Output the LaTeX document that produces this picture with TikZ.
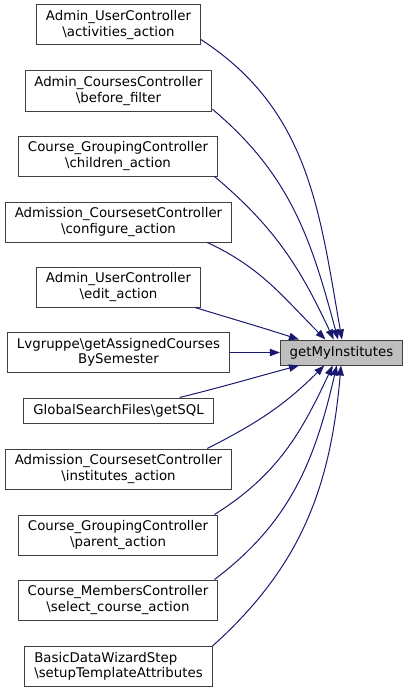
\documentclass[tikz,border=0pt]{standalone}
\usepackage{fontspec}
\setmainfont{DejaVu Sans}
\usepackage{tikz}
\usetikzlibrary{arrows.meta}
\definecolor{edgeblue}{HTML}{191970}
\definecolor{boxgray}{HTML}{404040}
\definecolor{fillgray}{HTML}{BFBFBF}

\begin{document}
\begin{tikzpicture}[
  x=0.75pt, y=0.75pt,
  font=\fontsize{10}{11.5}\selectfont,
  caller/.style={rectangle, draw=boxgray, fill=white, line width=0.75pt,
                 align=center, minimum height=30pt, inner xsep=7pt,
                 inner ysep=2pt},
  callee/.style={caller, fill=fillgray, minimum height=18.75pt},
  arrow/.style={-{Triangle[length=7.5pt, width=5.5pt]}, line width=0.75pt,
                color=edgeblue},
]
\useasboundingbox (0,0) rectangle (409,-692);

% Callers
\node[caller] (c1) at (118.5,-25)
  {Admin\_UserController\\\textbackslash activities\_action};
\node[caller] (c2) at (118.5,-91)
  {Admin\_CoursesController\\\textbackslash before\_filter};
\node[caller] (c3) at (118,-156)
  {Course\_GroupingController\\\textbackslash children\_action};
\node[caller] (c4) at (118.5,-222)
  {Admission\_CoursesetController\\\textbackslash configure\_action};
\node[caller] (c5) at (118.5,-287)
  {Admin\_UserController\\\textbackslash edit\_action};
\node[caller] (c6) at (118.5,-352.5)
  {Lvgruppe\textbackslash getAssignedCourses\\BySemester};
\node[caller, minimum height=18.75pt] (c7) at (118.5,-410.5)
  {GlobalSearchFiles\textbackslash getSQL};
\node[caller] (c8) at (118.5,-469)
  {Admission\_CoursesetController\\\textbackslash institutes\_action};
\node[caller] (c9) at (118,-535)
  {Course\_GroupingController\\\textbackslash parent\_action};
\node[caller] (c10) at (118,-600)
  {Course\_MembersController\\\textbackslash select\_course\_action};
\node[caller, align=left] (c11) at (118.5,-666)
  {BasicDataWizardStep\\\textbackslash setupTemplateAttributes};

% Called function
\node[callee] (target) at (341.5,-352.5) {getMyInstitutes};

% Calls
\draw[arrow] (c1.-10) to[out=-33, in=100] (target.88);
\draw[arrow] (c2.-11) to[out=-40, in=105] (target.105);
\draw[arrow] (c3.-12) to[out=-40, in=115] (target.121);
\draw[arrow] (c4.-13) to[out=-25, in=135] (target.141);
\draw[arrow] (c5.-15) to[out=-17, in=162] (target.163);
\draw[arrow] (c6) -- (target);
\draw[arrow] (c7.12) to[out=14, in=-165] (target.-163);
\draw[arrow] (c8.13) to[out=27, in=-135] (target.-143);
\draw[arrow] (c9.12) to[out=32, in=-115] (target.-124);
\draw[arrow] (c10.12) to[out=37, in=-103] (target.-110);
\draw[arrow] (c11.12) to[out=42, in=-95] (target.-92);

\end{tikzpicture}
\end{document}
